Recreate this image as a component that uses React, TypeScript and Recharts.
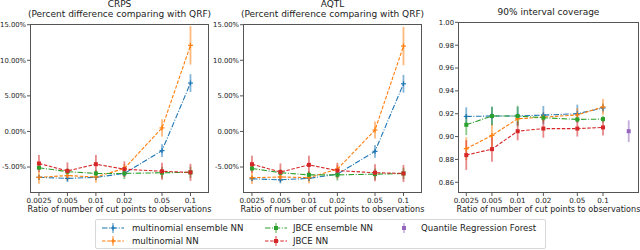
import React from "react";
import { LineChart, Line, XAxis, YAxis, ErrorBar } from "recharts";

// x positions (ratio of cut points to observations)
const ratios = [0.0025, 0.005, 0.01, 0.02, 0.05, 0.1];
const qrfRatio = [0.2];

// CRPS, percent difference vs QRF
const crpsMultiEns = [-6.45, -6.6, -6.45, -5.9, -2.7, 6.8];
const crpsMultiEnsErr = [0.3, 0.5, 0.4, 0.4, 0.9, 1.25];
const crpsMulti = [-6.45, -6.2, -6.4, -5.2, 0.5, 12.1];
const crpsMultiErr = [0.9, 0.7, 0.8, 0.6, 1.2, 2.7];
const crpsJbceEns = [-5.1, -5.65, -5.9, -5.9, -5.8, -5.75];
const crpsJbceEnsErr = [0.4, 0.5, 0.5, 0.8, 0.8, 0.8];
const crpsJbce = [-4.5, -5.55, -4.6, -5.3, -5.6, -5.75];
const crpsJbceErr = [1.2, 1.2, 1.3, 1.1, 1.2, 1.2];

// AQTL, percent difference vs QRF
const aqtlMultiEns = [-6.65, -6.8, -6.6, -6.0, -2.8, 6.7];
const aqtlMultiEnsErr = [0.3, 0.5, 0.4, 0.4, 0.9, 1.25];
const aqtlMulti = [-6.5, -6.4, -6.5, -5.3, 0.2, 12.0];
const aqtlMultiErr = [0.9, 0.7, 0.8, 0.6, 1.2, 2.7];
const aqtlJbceEns = [-5.2, -5.8, -6.1, -6.1, -6.0, -5.9];
const aqtlJbceEnsErr = [0.4, 0.5, 0.5, 0.8, 0.8, 0.8];
const aqtlJbce = [-4.6, -5.7, -4.7, -5.5, -5.8, -5.9];
const aqtlJbceErr = [1.2, 1.2, 1.3, 1.1, 1.2, 1.2];

// 90% interval coverage
const covMultiEns = [0.9176, 0.918, 0.918, 0.9188, 0.92, 0.925];
const covMultiEnsErr = [0.008, 0.008, 0.008, 0.008, 0.008, 0.004];
const covMulti = [0.8894, 0.901, 0.9156, 0.917, 0.919, 0.926];
const covMultiErr = [0.01, 0.01, 0.004, 0.004, 0.006, 0.007];
const covJbceEns = [0.9103, 0.918, 0.918, 0.9165, 0.915, 0.9153];
const covJbceEnsErr = [0.009, 0.008, 0.009, 0.003, 0.002, 0.003];
const covJbce = [0.8838, 0.889, 0.9047, 0.907, 0.907, 0.908];
const covJbceErr = [0.013, 0.011, 0.008, 0.008, 0.007, 0.007];
const covQrf = [0.9047];
const covQrfErr = [0.0095];

const pctTicks = [-5, 0, 5, 10, 15];
const covTicks = [0.86, 0.88, 0.9, 0.92, 0.94, 0.96, 0.98, 1.0];

const FONT = "DejaVu Sans, sans-serif";
const AXIS = "#555";
const TEXT = "#222";

const BLUE = "#1f77b4";
const ORANGE = "#ff7f0e";
const GREEN = "#2ca02c";
const RED = "#d62728";
const PURPLE = "#9467bd";

const DASH = "3.5 1.6";
const DASHDOT = "5.5 1.6 1 1.6";

function toRows(xs: number[], ys: number[], es: number[]) {
  return xs.map((x, i) => ({ x, y: ys[i], e: es[i] }));
}

function marker(shape: "plus" | "square", color: string) {
  return (props: any) => {
    const { cx, cy, index } = props;
    if (cx == null || cy == null) return <g key={index} />;
    if (shape === "square") {
      return <rect key={index} x={cx - 2} y={cy - 2} width={4} height={4} fill={color} />;
    }
    return (
      <g key={index} stroke={color} strokeWidth={1.2}>
        <line x1={cx - 2.5} y1={cy} x2={cx + 2.5} y2={cy} />
        <line x1={cx} y1={cy - 2.5} x2={cx} y2={cy + 2.5} />
      </g>
    );
  };
}

interface SeriesDef {
  rows: { x: number; y: number; e: number }[];
  color: string;
  dash: string | undefined;
  shape: "plus" | "square";
}

interface PanelProps {
  plotLeft: number;
  plotTop: number;
  plotW: number;
  plotH: number;
  xDomain: [number, number];
  yDomain: [number, number];
  yTicks: number[];
  yFmt: (v: number) => string;
  series: SeriesDef[];
  titles: string[];
}

function Panel(p: PanelProps) {
  const yW = 34;
  const xH = 24;
  const rightM = 2;
  const width = yW + p.plotW + rightM;
  const height = p.plotTop + p.plotH + xH;
  const cx = p.plotLeft + p.plotW / 2;
  return (
    <>
      <div style={{ position: "absolute", left: p.plotLeft - yW, top: 0 }}>
        <LineChart
          width={width}
          height={height}
          margin={{ top: p.plotTop, right: rightM, left: 0, bottom: 0 }}
        >
          <XAxis
            dataKey="x"
            type="number"
            scale="log"
            domain={p.xDomain}
            allowDataOverflow
            ticks={ratios}
            interval={0}
            tickFormatter={(v: number) => String(v)}
            height={xH}
            axisLine={false}
            tickLine={{ stroke: AXIS }}
            tickSize={3}
            tick={{ fontSize: 7.2, fill: TEXT, fontFamily: FONT }}
          />
          <YAxis
            type="number"
            domain={p.yDomain}
            allowDataOverflow
            ticks={p.yTicks}
            interval={0}
            tickFormatter={p.yFmt}
            width={yW}
            axisLine={false}
            tickLine={{ stroke: AXIS }}
            tickSize={3}
            tickMargin={1}
            tick={{ fontSize: 6.8, fill: TEXT, fontFamily: FONT }}
          />
          {p.series.map((s, i) => (
            <Line
              key={i}
              data={s.rows}
              dataKey="y"
              stroke={s.color}
              strokeWidth={1.1}
              strokeDasharray={s.dash}
              dot={marker(s.shape, s.color)}
              activeDot={false}
              isAnimationActive={false}
            >
              <ErrorBar
                dataKey="e"
                direction="y"
                width={0}
                stroke={s.color}
                strokeOpacity={0.55}
                strokeWidth={1.8}
                isAnimationActive={false}
              />
            </Line>
          ))}
        </LineChart>
      </div>
      <div
        style={{
          position: "absolute",
          left: p.plotLeft,
          top: p.plotTop,
          width: p.plotW,
          height: p.plotH,
          border: `1px solid ${AXIS}`,
          boxSizing: "border-box",
          pointerEvents: "none",
        }}
      />
      {p.titles.map((t, i) => (
        <div
          key={i}
          style={{
            position: "absolute",
            left: cx - 150,
            width: 300,
            top: p.plotTop - 10 - (p.titles.length - 1 - i) * 10.5 - 5,
            lineHeight: "10px",
            textAlign: "center",
            fontSize: 9,
            color: TEXT,
            whiteSpace: "nowrap",
          }}
        >
          {t}
        </div>
      ))}
      <div
        style={{
          position: "absolute",
          left: cx - 150,
          width: 300,
          top: p.plotTop + p.plotH + 11,
          lineHeight: "10px",
          textAlign: "center",
          fontSize: 8.1,
          color: TEXT,
          whiteSpace: "nowrap",
        }}
      >
        Ratio of number of cut points to observations
      </div>
    </>
  );
}

function LegendSample({ color, dash, shape }: { color: string; dash?: string; shape: "plus" | "square" }) {
  return (
    <svg width={22} height={10} style={{ display: "block" }}>
      {dash !== "none" && (
        <line x1={0} y1={5} x2={22} y2={5} stroke={color} strokeWidth={1.1} strokeDasharray={dash} />
      )}
      <line x1={11} y1={0} x2={11} y2={10} stroke={color} strokeOpacity={0.55} strokeWidth={1.6} />
      {shape === "square" ? (
        <rect x={9} y={3} width={4} height={4} fill={color} />
      ) : (
        <g stroke={color} strokeWidth={1.2}>
          <line x1={8.5} y1={5} x2={13.5} y2={5} />
          <line x1={11} y1={2.5} x2={11} y2={7.5} />
        </g>
      )}
    </svg>
  );
}

const legendItems = [
  { label: "multinomial ensemble NN", color: BLUE, dash: DASHDOT, shape: "plus" as const, col: 0, row: 0 },
  { label: "multinomial NN", color: ORANGE, dash: DASH, shape: "plus" as const, col: 0, row: 1 },
  { label: "JBCE ensemble NN", color: GREEN, dash: DASHDOT, shape: "square" as const, col: 1, row: 0 },
  { label: "JBCE NN", color: RED, dash: DASH, shape: "square" as const, col: 1, row: 1 },
  { label: "Quantile Regression Forest", color: PURPLE, dash: "none", shape: "square" as const, col: 2, row: 0 },
];
// offsets within the legend box
const legendSampleX = [6, 169, 297];
const legendTextX = [36, 197, 325];

export default function App() {
  const pctFmt = (v: number) => v.toFixed(2) + "%";
  const covFmt = (v: number) => v.toFixed(2);
  const pctY: [number, number] = [-8.65, 15.1];
  const pctX: [number, number] = [0.00201, 0.157];

  const crpsSeries: SeriesDef[] = [
    { rows: toRows(ratios, crpsMultiEns, crpsMultiEnsErr), color: BLUE, dash: DASHDOT, shape: "plus" },
    { rows: toRows(ratios, crpsMulti, crpsMultiErr), color: ORANGE, dash: DASH, shape: "plus" },
    { rows: toRows(ratios, crpsJbceEns, crpsJbceEnsErr), color: GREEN, dash: DASHDOT, shape: "square" },
    { rows: toRows(ratios, crpsJbce, crpsJbceErr), color: RED, dash: DASH, shape: "square" },
  ];
  const aqtlSeries: SeriesDef[] = [
    { rows: toRows(ratios, aqtlMultiEns, aqtlMultiEnsErr), color: BLUE, dash: DASHDOT, shape: "plus" },
    { rows: toRows(ratios, aqtlMulti, aqtlMultiErr), color: ORANGE, dash: DASH, shape: "plus" },
    { rows: toRows(ratios, aqtlJbceEns, aqtlJbceEnsErr), color: GREEN, dash: DASHDOT, shape: "square" },
    { rows: toRows(ratios, aqtlJbce, aqtlJbceErr), color: RED, dash: DASH, shape: "square" },
  ];
  const covSeries: SeriesDef[] = [
    { rows: toRows(ratios, covMultiEns, covMultiEnsErr), color: BLUE, dash: DASHDOT, shape: "plus" },
    { rows: toRows(ratios, covMulti, covMultiErr), color: ORANGE, dash: DASH, shape: "plus" },
    { rows: toRows(ratios, covJbceEns, covJbceEnsErr), color: GREEN, dash: DASHDOT, shape: "square" },
    { rows: toRows(ratios, covJbce, covJbceErr), color: RED, dash: DASH, shape: "square" },
    { rows: toRows(qrfRatio, covQrf, covQrfErr), color: PURPLE, dash: undefined, shape: "square" },
  ];

  return (
    <div
      style={{
        position: "absolute",
        left: 0,
        top: 0,
        width: 640,
        height: 250,
        background: "#fff",
        fontFamily: FONT,
        overflow: "hidden",
      }}
    >
      <Panel
        plotLeft={30}
        plotTop={24}
        plotW={179}
        plotH={169}
        xDomain={pctX}
        yDomain={pctY}
        yTicks={pctTicks}
        yFmt={pctFmt}
        series={crpsSeries}
        titles={["CRPS", "(Percent difference comparing with QRF)"]}
      />
      <Panel
        plotLeft={243}
        plotTop={24}
        plotW={179}
        plotH={169}
        xDomain={pctX}
        yDomain={pctY}
        yTicks={pctTicks}
        yFmt={pctFmt}
        series={aqtlSeries}
        titles={["AQTL", "(Percent difference comparing with QRF)"]}
      />
      <Panel
        plotLeft={458}
        plotTop={22}
        plotW={181}
        plotH={171}
        xDomain={[0.002, 0.264]}
        yDomain={[0.8506, 1.0003]}
        yTicks={covTicks}
        yFmt={covFmt}
        series={covSeries}
        titles={["90% interval coverage"]}
      />
      <div
        style={{
          position: "absolute",
          left: 95,
          top: 219,
          width: 451,
          height: 30,
          border: "1px solid #d8d8d8",
          borderRadius: 2,
          boxSizing: "border-box",
          fontSize: 8.6,
          color: TEXT,
        }}
      >
        {legendItems.map((it) => (
          <React.Fragment key={it.label}>
            <div
              style={{
                position: "absolute",
                left: legendSampleX[it.col],
                top: 3 + it.row * 13,
              }}
            >
              <LegendSample color={it.color} dash={it.dash} shape={it.shape} />
            </div>
            <div
              style={{
                position: "absolute",
                left: legendTextX[it.col],
                top: 3 + it.row * 13,
                lineHeight: "10px",
                whiteSpace: "nowrap",
              }}
            >
              {it.label}
            </div>
          </React.Fragment>
        ))}
      </div>
    </div>
  );
}
